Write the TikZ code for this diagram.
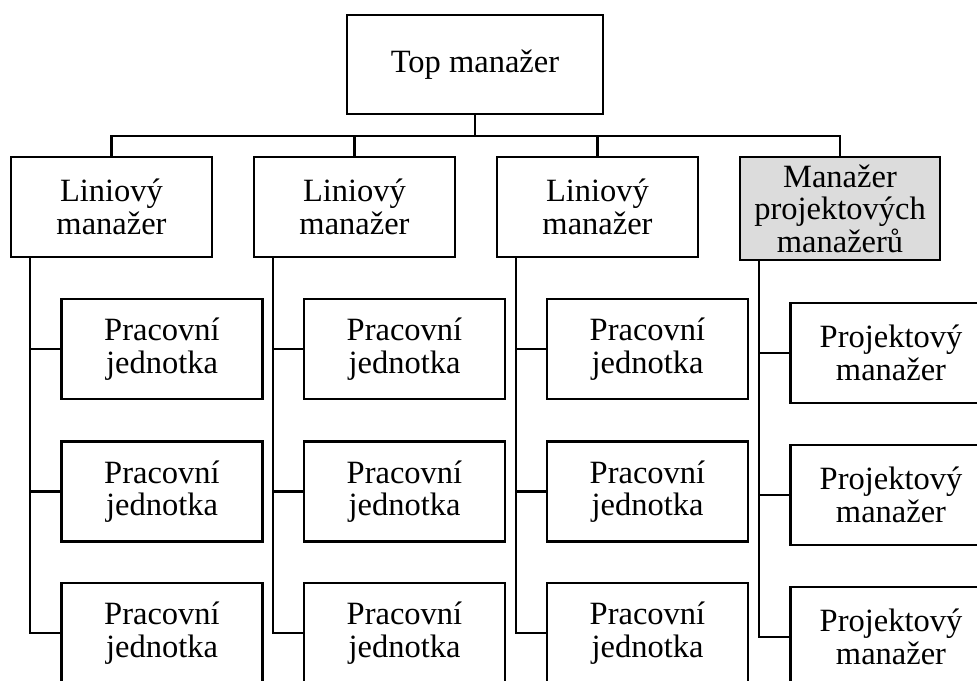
\documentclass[tikz,border=0pt]{standalone}
\usepackage{fontspec}
\setmainfont{Liberation Serif}
\definecolor{boxgray}{RGB}{220,220,220}
\begin{document}
\begin{tikzpicture}[x=1pt,y=-1pt,
  box/.style={draw=black, line width=2.4pt, fill=white, align=center, inner sep=0pt,
    font=\fontsize{32.5}{32.5}\selectfont, minimum width=201pt, minimum height=100pt},
  topbox/.style={box, minimum width=256pt, minimum height=99pt},
  graybox/.style={box, fill=boxgray, minimum width=200pt, minimum height=103pt},
  conn/.style={draw=black, line width=2.2pt}]
\useasboundingbox (0,0) rectangle (977,680);
\clip (0,0) rectangle (977,680);
% top
\node[topbox] (top) at (475,64.5) {Top manažer};
% level 2
\node[box] (l1) at (111.5,207) {Liniový\\manažer};
\node[box] (l2) at (354.5,207) {Liniový\\manažer};
\node[box] (l3) at (597.5,207) {Liniový\\manažer};
\node[graybox] (l4) at (840,208.5) {Manažer\\projektových\\manažerů};
% children
\foreach \c/\x in {1/162,2/404.5,3/647.5}{
  \node[box] (c\c1) at (\x,349) {Pracovní\\jednotka};
  \node[box] (c\c2) at (\x,491.5) {Pracovní\\jednotka};
  \node[box] (c\c3) at (\x,633) {Pracovní\\jednotka};
}
\node[box] (c41) at (891,353) {Projektový\\manažer};
\node[box] (c42) at (891,495) {Projektový\\manažer};
\node[box] (c43) at (891,637) {Projektový\\manažer};
% bus
\coordinate (bus) at (475,136);
\draw[conn] (top) -- (bus);
\draw[conn] (l1.north) |- (bus) -| (l4.north);
\draw[conn] (l2.north) -- (l2.north |- bus);
\draw[conn] (l3.north) -- (l3.north |- bus);
% column lines
\foreach \i in {1,2,3,4}{
  \coordinate (v\i) at ([xshift=20pt]l\i.south west);
  \draw[conn] (v\i) |- (c\i3.west);
  \draw[conn] (c\i1.west) -- (c\i1.west -| v\i);
  \draw[conn] (c\i2.west) -- (c\i2.west -| v\i);
}
\end{tikzpicture}
\end{document}
